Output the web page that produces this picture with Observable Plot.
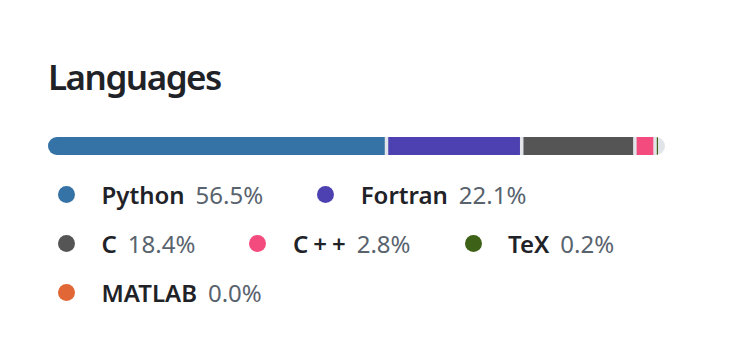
<!DOCTYPE html>
<html>
<head>
<meta charset="utf-8">
<script src="https://cdn.jsdelivr.net/npm/d3@7"></script>
<script src="https://cdn.jsdelivr.net/npm/@observablehq/plot@0.6"></script>
<style>
  html, body { margin: 0; padding: 0; background: #ffffff; }
  body { width: 742px; height: 353px; position: relative; overflow: hidden; font-family: "Noto Sans", "Open Sans", sans-serif; }
  #title { position: absolute; left: 48px; top: 57px; font-size: 35px; letter-spacing: -1.5px; line-height: 40px; font-weight: 600; color: #1f2328; margin: 0; }
  #bar { position: absolute; left: 0; top: 128px; }
  #legend { position: absolute; left: 50px; top: 170px; width: 640px; display: flex; flex-wrap: wrap; }
  .item { display: flex; align-items: center; height: 49px; margin-right: 46px; font-size: 24px; white-space: nowrap; }
  .dot { width: 17px; height: 17px; border-radius: 50%; margin: 0 26.5px 0 8px; flex: none; }
  .name { font-weight: 600; color: #1f2328; }
  .name.wide { letter-spacing: 5px; margin-right: -5px; }
  .pct { color: #59636e; margin-left: 11px; }
</style>
</head>
<body>
<h2 id="title">Languages</h2>
<div id="bar"></div>
<div id="legend"></div>
<script>
const languages = ["Python", "Fortran", "C", "C++", "TeX", "MATLAB"];
const percents = [56.5, 22.1, 18.4, 2.8, 0.2, 0.0];
const colors = ["#3572A5", "#4d41b1", "#555555", "#f34b7d", "#3D6117", "#e16737"];

const gap = 0.587; // separator between segments, in percentage units
let cum = 0;
const segments = languages.map((name, i) => {
  const x1 = cum + i * gap;
  cum += percents[i];
  return { name, pct: percents[i], x1, x2: x1 + percents[i] };
});
const xMax = 100 + languages.length * gap;

const svg = Plot.plot({
  width: 742,
  height: 36,
  marginLeft: 48,
  marginRight: 77,
  marginTop: 9,
  marginBottom: 9,
  x: { domain: [0, xMax], axis: null },
  color: { domain: languages, range: colors },
  marks: [
    Plot.barX([{ x1: 0, x2: xMax }], { x1: "x1", x2: "x2", fill: "#e1e4e8" }),
    Plot.barX(segments, { x1: "x1", x2: "x2", fill: "name" })
  ]
});
svg.style.clipPath = "inset(9px 77px 9px 48px round 9px)";
document.getElementById("bar").appendChild(svg);

const legend = d3.select("#legend");
languages.forEach((name, i) => {
  const item = legend.append("div").attr("class", "item");
  item.append("span").attr("class", "dot").style("background", colors[i]);
  item.append("span").attr("class", name.includes("+") ? "name wide" : "name").text(name);
  item.append("span").attr("class", "pct").text(percents[i].toFixed(1) + "%");
});
</script>
</body>
</html>
